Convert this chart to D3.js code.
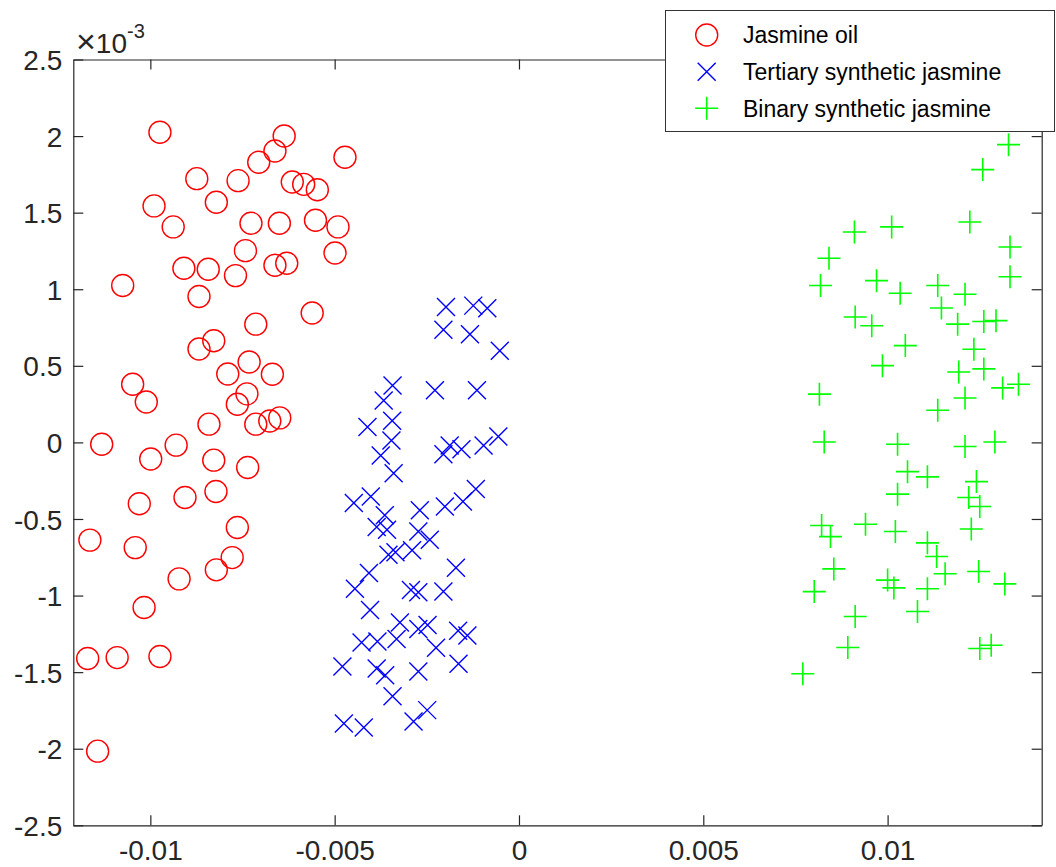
<!DOCTYPE html>
<html><head><meta charset="utf-8">
<script src="https://cdn.jsdelivr.net/npm/d3@7"></script>
<style>html,body{margin:0;padding:0;background:#fff;}svg{display:block;}</style>
</head><body>
<svg id="chart" width="1056" height="867"></svg>
<script>
// y values are in units of 1e-3 (axis shows ×10^-3)
const yExponent = -3;
const xTicks = [-0.01, -0.005, 0, 0.005, 0.01];
const xTickLabels = ["-0.01", "-0.005", "0", "0.005", "0.01"];
const yTicks = [-2.5, -2, -1.5, -1, -0.5, 0, 0.5, 1, 1.5, 2, 2.5];
const yTickLabels = ["-2.5", "-2", "-1.5", "-1", "-0.5", "0", "0.5", "1", "1.5", "2", "2.5"];
const seriesNames = ["Jasmine oil", "Tertiary synthetic jasmine", "Binary synthetic jasmine"];

const jasmineX = [-0.00974,-0.00637,-0.00662,-0.00472,-0.00706,-0.00874,-0.00762,-0.00615,-0.00584,-0.00547,
  -0.00990,-0.00821,-0.00938,-0.00727,-0.00650,-0.00552,-0.00491,-0.00742,-0.00499,-0.00909,
  -0.00843,-0.00769,-0.00662,-0.00630,-0.01075,-0.00868,-0.00561,-0.00714,-0.00828,-0.00868,
  -0.00732,-0.00790,-0.00669,-0.01048,-0.01011,-0.00738,-0.00764,-0.00841,-0.00714,-0.00676,
  -0.00649,-0.01132,-0.00930,-0.00999,-0.00828,-0.00736,-0.00822,-0.00906,-0.01030,-0.00764,
  -0.01164,-0.01041,-0.00778,-0.00821,-0.00922,-0.01017,-0.01170,-0.01090,-0.00974,-0.01143];
const jasmineY = [2.025,2.001,1.903,1.862,1.829,1.722,1.709,1.700,1.685,1.650,
  1.544,1.568,1.407,1.431,1.431,1.450,1.407,1.252,1.237,1.137,
  1.131,1.089,1.157,1.170,1.024,0.953,0.845,0.772,0.664,0.610,
  0.525,0.447,0.445,0.380,0.264,0.317,0.249,0.119,0.119,0.140,
  0.160,-0.012,-0.018,-0.108,-0.116,-0.164,-0.321,-0.360,-0.401,-0.556,
  -0.638,-0.687,-0.752,-0.832,-0.891,-1.078,-1.411,-1.405,-1.398,-2.016];

const tertiaryX = [-0.00198,-0.00124,-0.00086,-0.00205,-0.00133,-0.00052,-0.00343,-0.00367,-0.00228,-0.00114,
  -0.00411,-0.00344,-0.00346,-0.00375,-0.00340,-0.00205,-0.00188,-0.00156,-0.00096,-0.00056,
  -0.00448,-0.00402,-0.00364,-0.00386,-0.00358,-0.00269,-0.00201,-0.00152,-0.00117,-0.00273,
  -0.00242,-0.00354,-0.00335,-0.00290,-0.00171,-0.00407,-0.00445,-0.00293,-0.00273,-0.00205,
  -0.00404,-0.00323,-0.00273,-0.00248,-0.00332,-0.00165,-0.00140,-0.00427,-0.00384,-0.00225,
  -0.00479,-0.00386,-0.00363,-0.00273,-0.00164,-0.00343,-0.00249,-0.00286,-0.00475,-0.00421];
const tertiaryY = [0.884,0.893,0.876,0.736,0.706,0.599,0.371,0.273,0.341,0.341,
  0.101,0.142,0.012,-0.086,-0.201,-0.077,-0.021,-0.044,-0.021,0.038,
  -0.395,-0.354,-0.475,-0.552,-0.571,-0.443,-0.419,-0.386,-0.305,-0.582,
  -0.636,-0.734,-0.717,-0.704,-0.819,-0.852,-0.956,-0.963,-0.978,-0.974,
  -1.095,-1.176,-1.219,-1.193,-1.283,-1.230,-1.261,-1.307,-1.300,-1.341,
  -1.463,-1.477,-1.520,-1.496,-1.446,-1.657,-1.748,-1.822,-1.836,-1.862];

const binaryX = [0.01328,0.01258,0.01223,0.00910,0.01011,0.01332,0.00841,0.01332,0.00818,0.00970,
  0.01034,0.01136,0.01210,0.01146,0.00912,0.00957,0.01190,0.01261,0.01294,0.01048,
  0.01234,0.00986,0.01193,0.01261,0.01312,0.01355,0.00815,0.01210,0.01136,0.00828,
  0.01027,0.01210,0.01291,0.01054,0.01108,0.01241,0.01027,0.01220,0.01250,0.00821,
  0.00845,0.00940,0.01021,0.01108,0.01227,0.01133,0.00854,0.01156,0.01247,0.01000,
  0.01017,0.01108,0.01318,0.00801,0.00912,0.01081,0.00892,0.01250,0.01281,0.00770];
const binaryY = [1.944,1.781,1.439,1.374,1.407,1.276,1.202,1.082,1.024,1.056,
  0.974,1.024,0.967,0.878,0.819,0.762,0.772,0.789,0.795,0.632,
  0.608,0.501,0.460,0.480,0.356,0.380,0.315,0.290,0.210,0.003,
  -0.012,-0.027,0.003,-0.191,-0.225,-0.256,-0.338,-0.360,-0.419,-0.543,
  -0.615,-0.534,-0.582,-0.656,-0.565,-0.745,-0.826,-0.858,-0.843,-0.899,
  -0.950,-0.956,-0.924,-0.974,-1.137,-1.104,-1.339,-1.346,-1.324,-1.511];

const xDomain = [-0.01209, 0.01418];
const yDomain = [-2.5, 2.5];

const svg = d3.select("#chart");
const L = 73.3, R = 1041.7, T = 59.5, B = 825.3;
const x = d3.scaleLinear().domain(xDomain).range([L, R]);
const y = d3.scaleLinear().domain(yDomain).range([B, T]);
const axisColor = "#262626";
const font = "'Liberation Sans', Arial, Helvetica, sans-serif";
const tickLen = 10;

// axes box with inward ticks on all sides
const gx = svg.append("g").attr("transform", `translate(0,${B})`)
  .call(d3.axisBottom(x).tickValues(xTicks).tickFormat((d,i)=>xTickLabels[i]).tickSizeInner(-tickLen).tickSizeOuter(0).tickPadding(22));
const gxt = svg.append("g").attr("transform", `translate(0,${T})`)
  .call(d3.axisTop(x).tickValues(xTicks).tickFormat("").tickSizeInner(-tickLen).tickSizeOuter(0));
const gy = svg.append("g").attr("transform", `translate(${L},0)`)
  .call(d3.axisLeft(y).tickValues(yTicks).tickFormat((d,i)=>yTickLabels[i]).tickSizeInner(-tickLen).tickSizeOuter(0).tickPadding(11));
const gyr = svg.append("g").attr("transform", `translate(${R},0)`)
  .call(d3.axisRight(y).tickValues(yTicks).tickFormat("").tickSizeInner(-tickLen).tickSizeOuter(0));
[gx, gxt, gy, gyr].forEach(g => {
  g.select(".domain").attr("stroke", axisColor).attr("stroke-width", 1.2);
  g.selectAll(".tick line").attr("stroke", axisColor).attr("stroke-width", 1.2);
  g.selectAll(".tick text").attr("fill", axisColor).style("font-family", font).style("font-size", "28px");
});
gx.selectAll(".tick text").attr("dy", "0.71em").attr("y", 15);
gy.selectAll(".tick text").attr("dy", "0.36em");

// exponent label
const ex = svg.append("text").attr("x", 76).attr("y", 53).attr("fill", axisColor)
  .style("font-family", font).style("font-size", "28px");
ex.append("tspan").style("font-size", "34px").text("×");
ex.append("tspan").text("10");
ex.append("tspan").attr("dy", -15).style("font-size", "20px").text(String(yExponent));

// markers
const plot = svg.append("g");
function circleMark(g, cx, cy) {
  g.append("circle").attr("cx", cx).attr("cy", cy).attr("r", 11)
    .attr("fill", "none").attr("stroke", "#ff0000").attr("stroke-width", 1.4);
}
function xMark(g, cx, cy) {
  const s = 9;
  g.append("path").attr("d", `M${cx-s},${cy-s}L${cx+s},${cy+s}M${cx-s},${cy+s}L${cx+s},${cy-s}`)
    .attr("stroke", "#0000ff").attr("stroke-width", 1.4).attr("fill", "none");
}
function plusMark(g, cx, cy) {
  const s = 11.5;
  g.append("path").attr("d", `M${cx-s},${cy}L${cx+s},${cy}M${cx},${cy-s}L${cx},${cy+s}`)
    .attr("stroke", "#00ff00").attr("stroke-width", 1.6).attr("fill", "none");
}
jasmineX.forEach((v,i) => circleMark(plot, x(v), y(jasmineY[i])));
tertiaryX.forEach((v,i) => xMark(plot, x(v), y(tertiaryY[i])));
binaryX.forEach((v,i) => plusMark(plot, x(v), y(binaryY[i])));

// legend
const lg = svg.append("g");
lg.append("rect").attr("x", 665.5).attr("y", 10.5).attr("width", 389).attr("height", 121)
  .attr("fill", "#fff").attr("stroke", "#333").attr("stroke-width", 1);
const rowsY = [35, 71.7, 108.3];
const marks = [circleMark, xMark, plusMark];
seriesNames.forEach((name, i) => {
  marks[i](lg, 706.7, rowsY[i]);
  lg.append("text").attr("x", 743).attr("y", rowsY[i]).attr("dy", "0.36em")
    .attr("fill", "#000").style("font-family", font).style("font-size", "23px").text(name);
});
</script>
</body></html>
